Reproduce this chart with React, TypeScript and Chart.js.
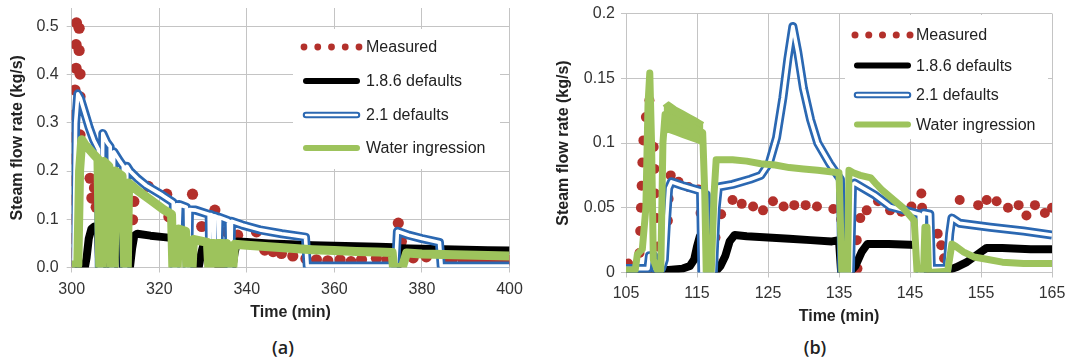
import React, { useEffect, useRef } from 'react';
import { Chart, registerables } from 'chart.js';

Chart.register(...registerables);

type Pt = [number, number];

// ---------- text ----------
const seriesNames = ['Measured', '1.8.6 defaults', '2.1 defaults', 'Water ingression'];
const panelLabels = ['(a)', '(b)'];
const xTitle = 'Time (min)';
const yTitle = 'Steam flow rate (kg/s)';

// ---------- ticks ----------
const xTicksA = [300, 320, 340, 360, 380, 400];
const yTicksA = [0, 0.1, 0.2, 0.3, 0.4, 0.5];
const xTicksB = [105, 115, 125, 135, 145, 155, 165];
const yTicksB = [0, 0.05, 0.1, 0.15, 0.2];

// ---------- panel (a) data: [time (min), steam flow (kg/s)] ----------
const measuredA: Pt[] = [
  [300.05, 0.005], [300.1, 0.03], [300.15, 0.06], [300.2, 0.1], [300.25, 0.14], [300.3, 0.18],
  [300.35, 0.225], [300.4, 0.27], [300.5, 0.316], [300.75, 0.368], [301.0, 0.413], [301.0, 0.462],
  [301.1, 0.507], [301.7, 0.496], [301.7, 0.45], [301.9, 0.401], [301.9, 0.354], [301.9, 0.275],
  [304.2, 0.185], [304.6, 0.144], [305.2, 0.165], [305.6, 0.125], [313.9, 0.099], [314.2, 0.137],
  [317.5, 0.168], [321.7, 0.152], [322.2, 0.105], [324.7, 0.099], [327.6, 0.152], [329.7, 0.085],
  [330.8, 0.029], [332.7, 0.119], [335.4, 0.074], [337.9, 0.067], [342.2, 0.074], [344.1, 0.036],
  [346.0, 0.033], [347.9, 0.029], [350.5, 0.024], [353.5, 0.018], [355.9, 0.016], [358.5, 0.014],
  [361.3, 0.016], [363.8, 0.012], [366.2, 0.016], [369.6, 0.019], [372.0, 0.016], [374.6, 0.092],
  [375.3, 0.054], [378.0, 0.02], [381.0, 0.022], [384.8, 0.016], [387.0, 0.018], [389.4, 0.016],
  [391.6, 0.014], [394.0, 0.016], [396.0, 0.017], [397.8, 0.016], [399.6, 0.015],
];

const defaults186A: Pt[] = [
  [300, 0.0], [303, 0.0], [303.4, 0.02], [303.9, 0.06], [304.5, 0.08], [305.2, 0.085], [306.0, 0.083],
  [306.3, 0.0], [307.0, 0.0], [307.3, 0.078], [308.6, 0.075], [308.9, 0.0], [309.7, 0.0], [310.0, 0.075],
  [311.4, 0.072], [311.7, 0.0], [313.3, 0.0], [313.8, 0.04], [314.3, 0.066], [315, 0.07], [318, 0.066],
  [321, 0.063], [324, 0.06], [327, 0.058], [327.3, 0.0], [329.0, 0.0], [329.6, 0.03], [330.2, 0.05],
  [332, 0.05], [333.2, 0.049], [333.5, 0.0], [336.7, 0.0], [337.2, 0.03], [337.8, 0.054], [340, 0.053],
  [345, 0.05], [350, 0.048], [355, 0.046], [360, 0.045], [365, 0.044], [370, 0.043], [373.6, 0.042],
  [373.9, 0.0], [374.4, 0.0], [374.7, 0.04], [380, 0.039], [385, 0.038], [390, 0.037], [395, 0.036],
  [400, 0.035],
];

const defaults21A: Pt[] = [
  [300, 0.003], [300.5, 0.003], [300.9, 0.3], [301.4, 0.36], [302, 0.35], [303, 0.32], [304, 0.29],
  [305, 0.265], [306.1, 0.245], [306.3, 0.0], [306.8, 0.0], [307.1, 0.278], [308, 0.26], [308.8, 0.25],
  [309.0, 0.0], [309.3, 0.0], [309.6, 0.24], [311, 0.22], [311.8, 0.21], [312.0, 0.0], [312.3, 0.0],
  [312.6, 0.21], [313.3, 0.2], [315, 0.185], [317, 0.17], [320.7, 0.15], [323.2, 0.135], [323.4, 0.0],
  [323.7, 0.0], [323.9, 0.13], [324.3, 0.13], [324.5, 0.08], [324.7, 0.13], [326.2, 0.125], [326.4, 0.0],
  [326.7, 0.0], [326.9, 0.12], [328.3, 0.119], [331.4, 0.11], [331.5, 0.03], [331.7, 0.11], [332.4, 0.107],
  [332.5, 0.02], [332.7, 0.107], [333.5, 0.104], [333.6, 0.03], [333.8, 0.104], [335.8, 0.097], [336.0, 0.0],
  [336.3, 0.0], [336.5, 0.096], [339, 0.088], [343, 0.078], [348, 0.07], [353.4, 0.063], [353.8, 0.003],
  [374.0, 0.003], [374.4, 0.075], [377, 0.067], [380, 0.06], [384, 0.052], [384.4, 0.003], [400, 0.003],
];

const waterA: Pt[] = [
  [300, 0.005], [301.4, 0.005], [301.8, 0.2], [302.3, 0.265], [303, 0.255], [304, 0.245], [305, 0.235],
  [306, 0.225], [306.4, 0.0], [307.0, 0.0], [307.3, 0.22], [308.5, 0.21], [309.1, 0.0], [309.7, 0.0],
  [310.0, 0.2], [311.5, 0.19], [312.1, 0.0], [312.7, 0.0], [313.0, 0.175], [315, 0.16], [318, 0.14],
  [321, 0.12], [322.8, 0.11], [323.1, 0.0], [324.1, 0.0], [324.4, 0.08], [326, 0.075], [326.3, 0.0],
  [327.5, 0.0], [327.8, 0.058], [331, 0.052], [331.3, 0.0], [331.7, 0.05], [332.5, 0.05], [332.8, 0.0],
  [333.2, 0.05], [334.5, 0.05], [334.8, 0.0], [335.4, 0.05], [335.9, 0.0], [336.8, 0.0], [337.2, 0.048],
  [340, 0.046], [345, 0.043], [350, 0.04], [355, 0.037], [360, 0.035], [365, 0.033], [370, 0.032],
  [373.2, 0.031], [373.5, 0.0], [375.5, 0.0], [376.5, 0.03], [380, 0.028], [385, 0.027], [390, 0.026],
  [395, 0.025], [400, 0.024],
];

// ---------- panel (b) data ----------
const measuredB: Pt[] = [
  [105.3, 0.007], [106.9, 0.015], [107.0, 0.032], [107.1, 0.05], [107.2, 0.067], [107.3, 0.085],
  [107.45, 0.102], [107.8, 0.12], [108.3, 0.133], [108.9, 0.097], [109.0, 0.08], [109.1, 0.061],
  [109.25, 0.042], [109.5, 0.02], [110.9, 0.04], [111.0, 0.057], [111.3, 0.075], [112.4, 0.07],
  [113.8, 0.066], [115.2, 0.064], [115.5, 0.046], [117.3, 0.01], [117.6, 0.027], [118.4, 0.045],
  [120.0, 0.056], [121.3, 0.053], [122.9, 0.051], [124.3, 0.048], [125.7, 0.055], [127.2, 0.051],
  [128.7, 0.052], [130.3, 0.052], [131.9, 0.051], [134.2, 0.049], [135.3, 0.041], [136.4, 0.029],
  [137.5, 0.025], [137.6, 0.003], [138.0, 0.042], [138.9, 0.048], [140.5, 0.055], [142.2, 0.048],
  [143.8, 0.047], [145.2, 0.051], [146.6, 0.061], [146.7, 0.05], [148.9, 0.03], [149.4, 0.021],
  [149.8, 0.011], [151.1, 0.04], [152.0, 0.056], [154.6, 0.052], [155.8, 0.056], [157.2, 0.055],
  [158.8, 0.05], [160.3, 0.052], [161.4, 0.044], [162.6, 0.052], [164.0, 0.046], [165.0, 0.05],
];

const defaults186B: Pt[] = [
  [105, 0.002], [111, 0.002], [113, 0.003], [114, 0.005], [114.6, 0.01], [115.0, 0.02], [115.4, 0.028],
  [115.9, 0.03], [116.3, 0.03], [116.5, 0.0], [117.5, 0.0], [118.3, 0.005], [119.0, 0.013], [119.6, 0.024],
  [120.3, 0.029], [122, 0.028], [125, 0.027], [128, 0.026], [131, 0.025], [134, 0.024], [135.0, 0.025],
  [135.3, 0.0], [136.5, 0.0], [137.3, 0.005], [138.2, 0.016], [139.0, 0.022], [142, 0.022], [145, 0.0215],
  [146.5, 0.021], [146.8, 0.002], [149, 0.002], [150.5, 0.002], [151.5, 0.004], [153.0, 0.008],
  [154.5, 0.014], [155.8, 0.019], [158, 0.019], [162, 0.018], [165, 0.018],
];

const defaults21B: Pt[] = [
  [105, 0.003], [108.1, 0.003], [108.3, 0.013], [108.9, 0.013], [109.1, 0.003], [110.0, 0.003],
  [110.4, 0.01], [110.7, 0.04], [111.0, 0.065], [111.4, 0.07], [113, 0.067], [115.5, 0.063], [115.7, 0.0],
  [116.1, 0.0], [116.3, 0.06], [116.5, 0.0], [117.3, 0.0], [117.7, 0.05], [118.0, 0.066], [120, 0.068],
  [122.5, 0.072], [124, 0.075], [125.2, 0.085], [126.2, 0.104], [127.1, 0.135], [127.8, 0.165],
  [128.5, 0.19], [129.2, 0.17], [130.0, 0.142], [131, 0.118], [132, 0.1], [133.7, 0.084], [135.2, 0.072],
  [135.4, 0.0], [136.6, 0.0], [136.9, 0.068], [137.2, 0.069], [140, 0.06], [142.2, 0.051], [145, 0.047],
  [146.3, 0.045], [146.4, 0.0], [146.7, 0.0], [146.9, 0.046], [147.8, 0.045], [148.0, 0.003],
  [150.2, 0.003], [150.6, 0.03], [150.9, 0.042], [152, 0.038], [156.3, 0.035], [161, 0.032], [165, 0.029],
];

const waterB: Pt[] = [
  [105, 0.002], [106.3, 0.002], [106.6, 0.014], [107.3, 0.018], [107.8, 0.05], [108.1, 0.13],
  [108.35, 0.154], [108.6, 0.1], [108.85, 0.01], [109.4, 0.002], [109.9, 0.002], [110.2, 0.1],
  [110.5, 0.122], [111, 0.12], [113, 0.116], [115.8, 0.108], [116.1, 0.06], [116.3, 0.0], [117.0, 0.0],
  [117.4, 0.06], [117.7, 0.087], [120, 0.087], [122, 0.086], [124, 0.084], [126, 0.083], [128, 0.081],
  [130, 0.08], [132, 0.079], [135, 0.077], [135.4, 0.0], [136.2, 0.0], [136.4, 0.079], [137, 0.077],
  [138, 0.075], [139.5, 0.073], [140.3, 0.068], [141, 0.064], [142.7, 0.056], [144, 0.05], [145.6, 0.04],
  [146.0, 0.0], [146.9, 0.0], [147.1, 0.035], [147.4, 0.035], [147.6, 0.0], [150.3, 0.001],
  [150.9, 0.022], [151.5, 0.02], [152.5, 0.016], [154, 0.012], [156, 0.01], [158, 0.008], [161, 0.007],
  [165, 0.007],
];

// fuzzy band of the water-ingression trace between ~110 and ~116 min
const waterBandTopB: Pt[] = [
  [110.3, 0.128], [111, 0.131], [112, 0.127], [113, 0.124], [114, 0.121], [115, 0.118], [115.9, 0.115],
];
const waterBandBottomB: Pt[] = [
  [110.3, 0.108], [111, 0.109], [112, 0.107], [113, 0.105], [114, 0.103], [115, 0.101], [115.9, 0.099],
];

// ---------- styles ----------
const FONT = '"Liberation Sans", Arial, Helvetica, sans-serif';
const RED = '#b3302b';
const BLUE = '#2b68b2';
const GREEN = '#9dc35c';
const BLACK = '#000000';
const GRID = '#c4c4c4';
const TICK = '#333333';
const TITLE = '#222222';

Chart.defaults.font.family = FONT;

const xy = (a: Pt[]) => a.map(([x, y]) => ({ x, y }));

type PanelCfg = {
  left: number; w: number; h: number;
  xMin: number; xMax: number; yMax: number;
  xTicks: number[]; yTicks: number[];
  yFmt: (v: number) => string;
  measured: Pt[]; black: Pt[]; blue: Pt[]; green: Pt[];
  bandTop?: Pt[]; bandBottom?: Pt[];
  padTop: number; padRight: number; yAxisW: number; xAxisH: number;
  xTickPad: number; yTickPad: number; xTitlePad: number; yTitlePad: number;
  dotR: number; greenW: number; blackW: number; blueW: number; blueInnerW: number;
  legend: { x: number; y: number; w: number; h: number; sx: number; sw: number; tx: number; rows: number[]; dotR: number };
};

const panelA: PanelCfg = {
  left: 0, w: 540, h: 330,
  xMin: 300, xMax: 400, yMax: 0.538,
  xTicks: xTicksA, yTicks: yTicksA,
  yFmt: (v) => v.toFixed(1),
  measured: measuredA, black: defaults186A, blue: defaults21A, green: waterA,
  padTop: 8, padRight: 30.5, yAxisW: 71.7, xAxisH: 62.5,
  xTickPad: 7, yTickPad: 8, xTitlePad: 7.4, yTitlePad: 7.9,
  dotR: 5.6, greenW: 9, blackW: 8, blueW: 9, blueInnerW: 3.6,
  legend: { x: 293, y: 29, w: 207, h: 140, sx: 303, sw: 57, tx: 366, rows: [47, 81, 115, 148], dotR: 3.4 },
};

const panelB: PanelCfg = {
  left: 540, w: 529, h: 330,
  xMin: 105, xMax: 165, yMax: 0.2,
  xTicks: xTicksB, yTicks: yTicksB,
  yFmt: (v) => String(parseFloat(v.toFixed(2))),
  measured: measuredB, black: defaults186B, blue: defaults21B, green: waterB,
  bandTop: waterBandTopB, bandBottom: waterBandBottomB,
  padTop: 13.5, padRight: 17, yAxisW: 86, xAxisH: 57.5,
  xTickPad: 6, yTickPad: 6, xTitlePad: 3.4, yTitlePad: 14,
  dotR: 5, greenW: 7, blackW: 8, blueW: 9, blueInnerW: 3.6,
  legend: { x: 305, y: 15, w: 203, h: 124, sx: 314, sw: 57, tx: 376, rows: [35, 65.5, 95, 124.5], dotR: 3.5 },
};

function legendPlugin(p: PanelCfg) {
  return {
    id: 'customLegend',
    afterDraw(chart: any) {
      const ctx: CanvasRenderingContext2D = chart.ctx;
      const L = p.legend;
      ctx.save();
      ctx.fillStyle = '#ffffff';
      ctx.fillRect(L.x, L.y, L.w, L.h);
      ctx.lineCap = 'round';
      L.rows.forEach((ry, i) => {
        const x0 = L.sx + 3;
        const x1 = L.sx + L.sw - 3;
        if (i === 0) {
          ctx.fillStyle = RED;
          for (let k = 0; k < 5; k++) {
            ctx.beginPath();
            ctx.arc(L.sx + 1 + (k * (L.sw - 2)) / 4, ry, L.dotR, 0, Math.PI * 2);
            ctx.fill();
          }
        } else if (i === 1) {
          ctx.strokeStyle = BLACK; ctx.lineWidth = 6;
          ctx.beginPath(); ctx.moveTo(x0, ry); ctx.lineTo(x1, ry); ctx.stroke();
        } else if (i === 2) {
          ctx.strokeStyle = BLUE; ctx.lineWidth = 6.5;
          ctx.beginPath(); ctx.moveTo(x0, ry); ctx.lineTo(x1, ry); ctx.stroke();
          ctx.strokeStyle = '#ffffff'; ctx.lineWidth = 2.4;
          ctx.beginPath(); ctx.moveTo(x0, ry); ctx.lineTo(x1, ry); ctx.stroke();
        } else {
          ctx.strokeStyle = GREEN; ctx.lineWidth = 6;
          ctx.beginPath(); ctx.moveTo(x0, ry); ctx.lineTo(x1, ry); ctx.stroke();
        }
        ctx.fillStyle = TITLE;
        ctx.font = `16px ${FONT}`;
        ctx.textAlign = 'left';
        ctx.textBaseline = 'middle';
        ctx.fillText(seriesNames[i], L.tx, ry + 1);
      });
      ctx.restore();
    },
  };
}

function buildConfig(p: PanelCfg): any {
  const line = {
    showLine: true, pointRadius: 0, pointHoverRadius: 0, tension: 0,
    borderJoinStyle: 'round', borderCapStyle: 'butt', fill: false,
  };
  const datasets: any[] = [
    { ...line, label: seriesNames[3], data: xy(p.green), borderColor: GREEN, borderWidth: p.greenW, order: 0 },
  ];
  if (p.bandTop && p.bandBottom) {
    datasets.push(
      { ...line, label: 'band-top', data: xy(p.bandTop), borderColor: GREEN, backgroundColor: GREEN, borderWidth: 3, order: 1 },
      { ...line, label: 'band-bottom', data: xy(p.bandBottom), borderColor: GREEN, backgroundColor: GREEN, borderWidth: 3, fill: '-1', order: 1 },
    );
  }
  datasets.push(
    { ...line, label: seriesNames[2] + ' core', data: xy(p.blue), borderColor: '#ffffff', borderWidth: p.blueInnerW, order: 2 },
    { ...line, label: seriesNames[2], data: xy(p.blue), borderColor: BLUE, borderWidth: p.blueW, order: 3 },
    { ...line, label: seriesNames[1], data: xy(p.black), borderColor: BLACK, borderWidth: p.blackW, order: 4 },
    {
      label: seriesNames[0], data: xy(p.measured), showLine: false, pointRadius: p.dotR, pointHoverRadius: p.dotR,
      pointBackgroundColor: RED, pointBorderColor: RED, pointBorderWidth: 0, order: 5,
    },
  );

  const zeroPad = (s: any) => { s.paddingLeft = 0; s.paddingRight = 0; s.paddingTop = 0; s.paddingBottom = 0; };

  return {
    type: 'scatter',
    data: { datasets },
    options: {
      animation: false,
      responsive: false,
      maintainAspectRatio: false,
      devicePixelRatio: 1,
      events: [],
      layout: { padding: { left: 0, top: p.padTop, right: p.padRight, bottom: 0 } },
      plugins: { legend: { display: false }, tooltip: { enabled: false } },
      scales: {
        x: {
          type: 'linear', position: 'bottom', min: p.xMin, max: p.xMax,
          afterBuildTicks: (s: any) => { s.ticks = p.xTicks.map((v) => ({ value: v })); },
          afterFit: (s: any) => { s.height = p.xAxisH; zeroPad(s); },
          grid: { color: GRID, lineWidth: 1, tickLength: 5, drawTicks: true },
          border: { color: GRID, width: 1 },
          ticks: { font: { family: FONT, size: 16 }, color: TICK, padding: p.xTickPad, maxRotation: 0, autoSkip: false, callback: (v: number) => String(v) },
          title: { display: true, text: xTitle, color: TITLE, font: { family: FONT, size: 16, weight: 'bold' }, padding: { top: 0, bottom: p.xTitlePad } },
        },
        y: {
          type: 'linear', position: 'left', min: 0, max: p.yMax,
          afterBuildTicks: (s: any) => { s.ticks = p.yTicks.map((v) => ({ value: v })); },
          afterFit: (s: any) => { s.width = p.yAxisW; zeroPad(s); },
          grid: { color: GRID, lineWidth: 1, tickLength: 5, drawTicks: true },
          border: { color: GRID, width: 1 },
          ticks: { font: { family: FONT, size: 16 }, color: TICK, padding: p.yTickPad, autoSkip: false, callback: (v: number) => p.yFmt(v) },
          title: { display: true, text: yTitle, color: TITLE, font: { family: FONT, size: 16, weight: 'bold' }, padding: { top: p.yTitlePad, bottom: 0 } },
        },
      },
    },
    plugins: [legendPlugin(p)],
  };
}

function Panel({ cfg }: { cfg: PanelCfg }) {
  const ref = useRef<HTMLCanvasElement>(null);
  useEffect(() => {
    if (!ref.current) return;
    const chart = new Chart(ref.current, buildConfig(cfg));
    return () => chart.destroy();
  }, [cfg]);
  return (
    <canvas
      ref={ref}
      width={cfg.w}
      height={cfg.h}
      style={{ position: 'absolute', left: cfg.left, top: 0, width: cfg.w, height: cfg.h }}
    />
  );
}

const labelStyle = (cx: number): React.CSSProperties => ({
  position: 'absolute', left: cx, top: 347, transform: 'translate(-50%, -50%)',
  fontFamily: '"Open Sans", "Liberation Sans", sans-serif', fontWeight: 600, fontSize: 18,
  color: '#222', lineHeight: 1, whiteSpace: 'nowrap',
});

export default function App() {
  return (
    <div style={{ position: 'fixed', left: 0, top: 0, width: 1069, height: 360, background: '#ffffff', overflow: 'hidden' }}>
      <Panel cfg={panelA} />
      <Panel cfg={panelB} />
      <div style={labelStyle(283)}>{panelLabels[0]}</div>
      <div style={labelStyle(815)}>{panelLabels[1]}</div>
    </div>
  );
}
